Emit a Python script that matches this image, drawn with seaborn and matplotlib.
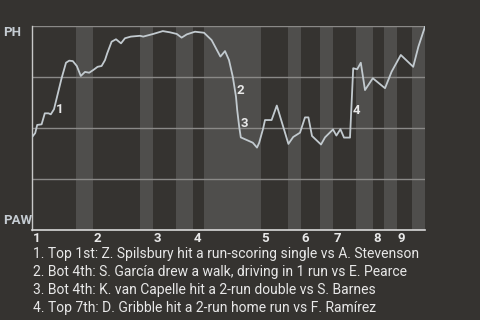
import matplotlib
matplotlib.use("Agg")
import matplotlib.pyplot as plt
import seaborn as sns
import pandas as pd

# ---- data ----
play_x = [0, 0.8, 1.3, 2.4, 3.2, 4.1, 4.7, 5.5, 7.4, 8.5, 9.3, 10.2, 11.2, 12.2, 13.25, 14.3,
          15.3, 16.4, 17.4, 18.25, 18.8, 19.9, 21, 22.25, 23.25, 24.7, 27, 27.8, 30.3, 32.7,
          34.5, 36.2, 37.4, 38.7, 40.75, 43, 44.9, 47.1, 48.25, 49.25, 50.2, 51, 51.3, 51.8,
          52.2, 53.7, 55.2, 56.25, 56.8, 57.8, 58.25, 59.9, 61.2, 64.1, 65.3, 67, 68.25, 69.1,
          70, 72.25, 73.25, 75.25, 76.1, 77.1, 78, 79.5, 79.9, 80.3, 81.3, 82.2, 83.25, 85.2,
          88.25, 89.9, 92.2, 95.3, 96.6, 98.25]
win_prob = [45.5, 47.5, 51.5, 51.8, 57.2, 57.2, 56.7, 59.2, 74.4, 82.0, 83.0, 82.8, 80.4, 75.5,
            77.5, 77.1, 78.4, 80.0, 80.4, 83.3, 86.6, 92.3, 93.5, 91.5, 94.0, 94.8, 95.2, 94.8,
            96.1, 97.5, 96.9, 96.1, 94.3, 95.9, 97.2, 96.7, 93.1, 85.0, 87.7, 83.3, 75.1, 65.3,
            58.8, 50.6, 45.4, 44.1, 42.8, 40.4, 42.8, 49.9, 53.9, 53.9, 61.0, 42.2, 45.6, 47.7,
            55.2, 55.2, 46.1, 41.9, 45.4, 49.3, 46.3, 49.4, 45.3, 45.3, 62.1, 79.3, 78.8, 82.0,
            68.6, 74.4, 69.5, 77.6, 85.8, 80.0, 89.9, 99.7]

innings = ["1", "2", "3", "4", "5", "6", "7", "8", "9"]
inning_start = [0, 15.2, 30.2, 40.2, 57.2, 67.2, 75.2, 85.2, 91.2]
bottom_start = [11, 27, 36, 43, 64.1, 72, 81, 88, 95]
game_end = 98.25

ann_labels = ["1", "2", "3", "4"]
ann_x = [7.0, 52.2, 53.1, 81.2]
ann_p = [59.3, 68.3, 52.3, 58.8]

events = [
    "1. Top 1st: Z. Spilsbury hit a run-scoring single vs A. Stevenson",
    "2. Bot 4th: S. García drew a walk, driving in 1 run vs E. Pearce",
    "3. Bot 4th: K. van Capelle hit a 2-run double vs S. Barnes",
    "4. Top 7th: D. Gribble hit a 2-run home run vs F. Ramírez",
]
team_top = "PH"
team_bottom = "PAW"

# ---- style ----
BG = "#353330"
STRIPE = "#4f4e4c"
GRID = "#8a8987"
LINE = "#c2cacf"
TXT = "#e8e8e8"

sns.set_theme(style="dark")
plt.rcParams["font.family"] = ["Roboto", "DejaVu Sans"]

fig = plt.figure(figsize=(4.8, 3.2), dpi=100, facecolor=BG)
ax = fig.add_axes([32 / 480, 1 - 230 / 320, 393 / 480, 204 / 320])
ax.set_facecolor(BG)

ends = inning_start[1:] + [game_end]
for b, e in zip(bottom_start, ends):
    ax.axvspan(b, e, color=STRIPE, lw=0, zorder=0)

for g in [25, 50, 75, 100]:
    ax.axhline(g, color=GRID, lw=1.0, zorder=1)

df = pd.DataFrame({"x": play_x, "p": win_prob})
sns.lineplot(data=df, x="x", y="p", ax=ax, color=LINE, lw=1.3, zorder=3,
             estimator=None, sort=False)

for lab, x, p in zip(ann_labels, ann_x, ann_p):
    ax.text(x, p, lab, color=TXT, fontsize=9.5, fontweight="bold", ha="center", va="center", zorder=4)

ax.set_xlim(0, game_end)
ax.set_ylim(0, 100)
ax.set_xticks([])
ax.set_yticks([])
ax.set_xlabel("")
ax.set_ylabel("")
for s in ["top", "right"]:
    ax.spines[s].set_visible(False)
ax.spines["left"].set_color("#c8c8c8")
ax.spines["bottom"].set_color("#d8d8d8")
ax.spines["left"].set_linewidth(1.0)
ax.spines["bottom"].set_linewidth(1.2)

for lab, x in zip(innings, inning_start):
    ax.annotate(lab, xy=(x, 0), xycoords="data", xytext=(0.5, -8), textcoords="offset pixels",
                color=TXT, fontsize=9.5, fontweight="bold", ha="left", va="center")

fig.text(3 / 480, 1 - 33 / 320, team_top, color="#c5ccd2", fontsize=9.5, fontweight="bold",
         ha="left", va="center")
fig.text(3 / 480, 1 - 221 / 320, team_bottom, color="#c5ccd2", fontsize=9.5, fontweight="bold",
         ha="left", va="center")

for i, t in enumerate(events):
    fig.text(33 / 480, 1 - (254 + 18 * i) / 320, t, color=TXT, fontsize=10,
             ha="left", va="center")

fig.savefig("out.png", dpi=100, facecolor=BG)
